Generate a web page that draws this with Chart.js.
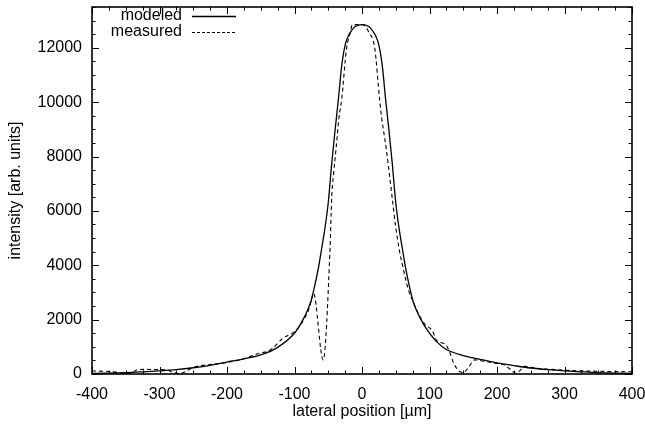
<!DOCTYPE html>
<html>
<head>
<meta charset="utf-8">
<script src="https://cdn.jsdelivr.net/npm/chart.js@4.4.1/dist/chart.umd.min.js"></script>
<style>
  body { margin: 0; background: #fff; }
  #c { display: block; }
</style>
</head>
<body>
<canvas id="c" width="645" height="430"></canvas>
<script>
// values (lateral position in µm, intensity in arb. units)
var modeledX = [-400, -375, -350, -325, -300, -275, -250, -225, -200, -175, -150, -125, -100, -90, -80, -75, -70, -65, -60, -55, -50, -45, -40, -35, -30, -25, -20, -15, -10, 0,
                10, 15, 20, 25, 30, 35, 40, 45, 50, 55, 60, 65, 70, 75, 80, 90, 100, 110, 125, 150, 175, 200, 225, 250, 275, 300, 325, 350, 375, 400]
var modeledY = [20, 35, 50, 80, 115, 160, 230, 320, 440, 560, 700, 980, 1500, 1880, 2380, 2730, 3250, 3850, 4580, 5350, 6300, 7700, 8950, 10100, 11350, 12100, 12450, 12650, 12780, 12850,
                12780, 12650, 12450, 12100, 11350, 10100, 8950, 7700, 6300, 5350, 4580, 3850, 3250, 2730, 2380, 1880, 1500, 1200, 900, 680, 540, 410, 310, 220, 160, 115, 80, 50, 35, 20]

var measuredX = [-400, -380, -365, -350, -340, -333, -320, -300, -290, -280, -270, -262, -250, -225, -200, -175, -160, -150, -140, -130, -117, -100, -90, -85, -80, -75, -72, -57.5, -47.4, -45, -42, -38.5, -34, -30, -23, -18, -14, 1,
                 10, 19, 26, 29, 36, 45, 50, 55, 60, 65, 70, 76, 85, 95, 100, 105, 110, 118, 125, 130, 135, 142, 150, 158, 167, 180, 200, 210, 218, 228, 235, 240, 260, 280, 300, 320, 350, 375, 400]
var measuredY = [110, 100, 70, 20, 60, 160, 170, 160, 150, 60, 20, 80, 240, 350, 420, 560, 700, 780, 830, 1000, 1320, 1560, 1850, 2050, 2300, 2700, 2980, 520, 4580, 6425, 7400, 8270, 9450, 10118, 11960, 12500, 12850, 12850,
                 12580, 11960, 10118, 9450, 8270, 6425, 5400, 4600, 4000, 3450, 3000, 2650, 2150, 1780, 1700, 1550, 1250, 1150, 1050, 800, 450, 150, 50, 250, 520, 470, 390, 340, 200, 30, 150, 280, 210, 170, 140, 120, 100, 90, 80]

var xTicks = [-400, -300, -200, -100, 0, 100, 200, 300, 400]
var yTicks = [0, 2000, 4000, 6000, 8000, 10000, 12000]
var legendNames = ['modeled', 'measured']

var fontFam = '"Liberation Sans", Arial, Helvetica, sans-serif'

function pts(xs, ys) {
    var out = []
    for (var i = 0; i < xs.length; i++) out.push({ x: xs[i], y: ys[i] })
    return out
}

// gnuplot style frame, inward ticks on all four sides, and key
var framePlugin = {
    id: 'frame',
    afterDraw: function (chart) {
        var c = chart.ctx
        var a = chart.chartArea
        var xs = chart.scales.x, ys = chart.scales.y
        c.save()
        c.strokeStyle = '#000'
        c.lineWidth = 1
        c.beginPath()
        for (var v = -400; v <= 400; v += 25) {
            var px = Math.round(xs.getPixelForValue(v)) + 0.5
            var len = (v % 100 === 0) ? 7 : 3.5
            c.moveTo(px, a.bottom); c.lineTo(px, a.bottom - len)
            c.moveTo(px, a.top); c.lineTo(px, a.top + len)
        }
        for (var w = 0; w <= 13500; w += 500) {
            var py = Math.round(ys.getPixelForValue(w)) + 0.5
            var l2 = (w % 2000 === 0) ? 7 : 3.5
            c.moveTo(a.left, py); c.lineTo(a.left + l2, py)
            c.moveTo(a.right, py); c.lineTo(a.right - l2, py)
        }
        c.stroke()
        c.lineWidth = 1.6
        c.strokeRect(a.left, a.top, a.right - a.left, a.bottom - a.top)

        // key
        c.font = '16px ' + fontFam
        c.fillStyle = '#000'
        c.textAlign = 'right'
        c.textBaseline = 'middle'
        var rows = [16, 32]
        for (var i = 0; i < legendNames.length; i++) {
            c.fillText(legendNames[i], 182, rows[i])
            c.beginPath()
            c.lineWidth = i === 0 ? 1.3 : 1.1
            c.setLineDash(i === 0 ? [] : [3, 2])
            c.moveTo(192, rows[i] + 0.5)
            c.lineTo(236, rows[i] + 0.5)
            c.stroke()
        }
        c.restore()
    }
}

var ctx = document.getElementById('c')

var chart = new Chart(ctx, {
    type: 'line',
    data: {
        datasets: [{
            label: legendNames[0],
            data: pts(modeledX, modeledY),
            borderColor: '#000',
            borderWidth: 1.3,
            pointRadius: 0,
            fill: false,
            cubicInterpolationMode: 'monotone'
        }, {
            label: legendNames[1],
            data: pts(measuredX, measuredY),
            borderColor: '#000',
            borderWidth: 1.1,
            borderDash: [4, 3],
            pointRadius: 0,
            fill: false,
            cubicInterpolationMode: 'monotone'
        }]
    },
    options: {
        responsive: false,
        animation: false,
        devicePixelRatio: 1,
        layout: { padding: { top: 7, right: 13, left: 0, bottom: 0 } },
        plugins: { legend: { display: false }, tooltip: { enabled: false } },
        scales: {
            x: {
                type: 'linear',
                min: -400,
                max: 400,
                afterBuildTicks: function (s) { s.ticks = xTicks.map(function (v) { return { value: v } }) },
                afterFit: function (s) { s.height = 56; s.paddingLeft = 0; s.paddingRight = 0 },
                grid: { display: false, drawTicks: false },
                border: { display: false },
                ticks: { color: '#000', padding: 11, maxRotation: 0, font: { family: fontFam, size: 16 },
                         callback: function (v) { return String(v) } },
                title: {
                    display: true,
                    text: 'lateral position [µm]',
                    color: '#000',
                    font: { family: fontFam, size: 16 },
                    padding: { top: 0, bottom: 9 }
                }
            },
            y: {
                type: 'linear',
                min: 0,
                max: 13500,
                afterBuildTicks: function (s) { s.ticks = yTicks.map(function (v) { return { value: v } }) },
                afterFit: function (s) { s.width = 92; s.paddingTop = 0; s.paddingBottom = 0 },
                grid: { display: false, drawTicks: false },
                border: { display: false },
                ticks: { color: '#000', padding: 10, font: { family: fontFam, size: 16 },
                         callback: function (v) { return String(v) } },
                title: {
                    display: true,
                    text: 'intensity [arb. units]',
                    color: '#000',
                    font: { family: fontFam, size: 16 },
                    padding: { top: 6, bottom: 0 }
                }
            }
        }
    },
    plugins: [framePlugin]
})
</script>
</body>
</html>
